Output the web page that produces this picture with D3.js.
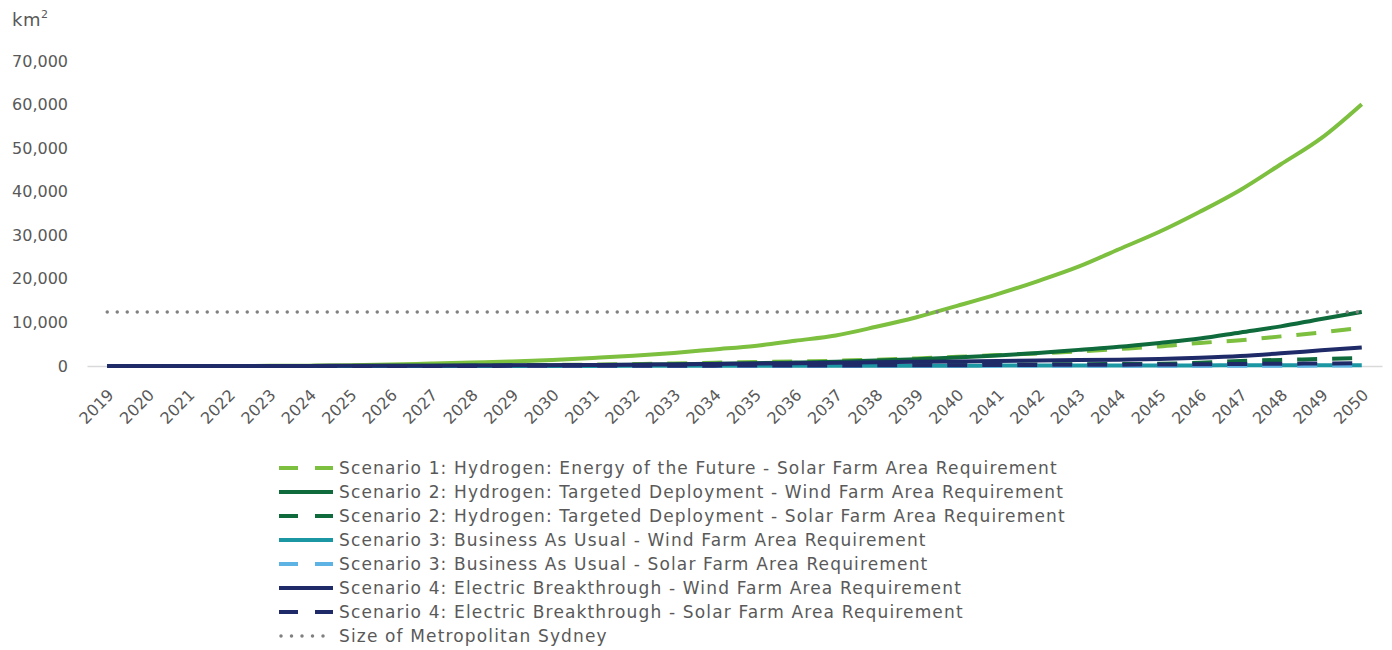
<!DOCTYPE html>
<html>
<head>
<meta charset="utf-8">
<script src="https://cdn.jsdelivr.net/npm/d3@7"></script>
<style>
  body { margin: 0; background: #fff; }
  text { font-family: "DejaVu Sans", Verdana, sans-serif; fill: #595959; }
</style>
</head>
<body>
<div class="chart"></div>
<script>
// data (km2)
const years = d3.range(2019, 2051).map(String);

const s1Wind = [0, 0, 0, 0, 30, 80, 200, 350, 570, 800, 1050, 1400, 1850, 2350, 3000, 3800,
  4600, 5800, 7000, 9000, 11200, 13800, 16500, 19500, 22800, 26800, 30800, 35400, 40400, 46300, 52300, 60100];
const s1Solar = [0, 0, 0, 0, 0, 10, 30, 60, 100, 150, 200, 260, 330, 450, 600, 750,
  900, 1050, 1200, 1450, 1750, 2100, 2500, 2900, 3350, 3900, 4500, 5300, 5900, 6800, 7700, 8800];
const s2Wind = [0, 0, 0, 0, 0, 10, 20, 40, 60, 90, 120, 160, 220, 300, 400, 520,
  650, 800, 1000, 1250, 1550, 1950, 2400, 3000, 3700, 4400, 5300, 6300, 7700, 9100, 10800, 12400];
const s2Solar = [0, 0, 0, 0, 0, 0, 0, 10, 20, 30, 40, 50, 60, 80, 100, 120,
  140, 160, 190, 220, 250, 280, 320, 360, 400, 450, 520, 750, 1150, 1400, 1600, 1800];
const s3Wind = [0, 0, 0, 0, 0, 0, 0, 0, 0, 10, 10, 20, 20, 30, 30, 40,
  40, 50, 50, 60, 70, 80, 90, 100, 110, 120, 130, 140, 150, 160, 180, 200];
const s3Solar = [0, 0, 0, 0, 0, 0, 0, 0, 0, 0, 5, 5, 10, 10, 15, 15,
  20, 25, 25, 30, 35, 40, 45, 50, 55, 60, 65, 70, 75, 80, 90, 100];
const s4Wind = [0, 0, 0, 0, 10, 20, 40, 60, 80, 100, 150, 200, 250, 300, 350, 450,
  550, 650, 750, 850, 950, 1050, 1150, 1250, 1350, 1450, 1600, 1900, 2300, 2900, 3600, 4250];
const s4Solar = [0, 0, 0, 0, 0, 0, 5, 10, 15, 20, 30, 40, 50, 60, 70, 85,
  100, 115, 130, 150, 170, 190, 220, 250, 280, 310, 350, 400, 460, 520, 580, 650];
const sydneySize = 12368;

const yTicks = [0, 10000, 20000, 30000, 40000, 50000, 60000, 70000];

const series = [
  { name: "Scenario 1: Hydrogen: Energy of the Future - Wind Farm Area Requirement", values: s1Wind, color: "#7dbf3e", dash: null, legend: false },
  { name: "Scenario 1: Hydrogen: Energy of the Future - Solar Farm Area Requirement", values: s1Solar, color: "#7dbf3e", dash: "20,15", legend: true },
  { name: "Scenario 2: Hydrogen: Targeted Deployment - Wind Farm Area Requirement", values: s2Wind, color: "#0f6b3b", dash: null, legend: true },
  { name: "Scenario 2: Hydrogen: Targeted Deployment - Solar Farm Area Requirement", values: s2Solar, color: "#0f6b3b", dash: "20,15", legend: true },
  { name: "Scenario 3: Business As Usual - Wind Farm Area Requirement", values: s3Wind, color: "#1b97a3", dash: null, legend: true },
  { name: "Scenario 3: Business As Usual - Solar Farm Area Requirement", values: s3Solar, color: "#5db3e4", dash: "20,15", legend: true },
  { name: "Scenario 4: Electric Breakthrough - Wind Farm Area Requirement", values: s4Wind, color: "#1f2a68", dash: null, legend: true },
  { name: "Scenario 4: Electric Breakthrough - Solar Farm Area Requirement", values: s4Solar, color: "#1f2a68", dash: "20,15", legend: true }
];

const width = 1392;
const height = 650;

const svg = d3.select(".chart")
  .append("svg")
  .attr("width", width)
  .attr("height", height);

// scales
let x = d3.scalePoint()
  .domain(years)
  .range([87, 1382])
  .padding(0.5);

let y = d3.scaleLinear()
  .domain([0, 70000])
  .range([366, 61]);

// unit label
let unit = svg.append("text")
  .attr("x", 12)
  .attr("y", 26)
  .style("font-size", "18px")
  .style("letter-spacing", "0.5px");
unit.append("tspan").text("km");
unit.append("tspan").text("2").attr("dy", -8).style("font-size", "11px");

// y axis labels
svg.append("g")
  .attr("transform", "translate(68,0)")
  .call(d3.axisLeft(y).tickValues(yTicks).tickSize(0).tickPadding(0).tickFormat(d3.format(",")))
  .call(g => g.select(".domain").remove())
  .call(g => g.selectAll("text")
    .attr("fill", "#595959")
    .style("font-size", "16px")
    .style("font-family", '"DejaVu Sans", Verdana, sans-serif'));

// x axis
let xAxis = svg.append("g")
  .attr("transform", `translate(0,${y(0)})`)
  .call(d3.axisBottom(x).tickSize(0).tickSizeOuter(0));
xAxis.select(".domain").attr("stroke", "#d9d9d9").attr("stroke-width", 1.5);
xAxis.selectAll("text")
  .attr("fill", "#595959")
  .style("font-size", "16px")
  .style("font-family", '"DejaVu Sans", Verdana, sans-serif')
  .attr("text-anchor", "end")
  .attr("dy", "0.35em")
  .attr("transform", "translate(1,24) rotate(-45)");

// lines
let line = d3.line()
  .x((d, i) => x(years[i]))
  .y(d => y(d))
  .curve(d3.curveMonotoneX);

let lines = svg.append("g").attr("id", "lines");

series.forEach(s => {
  lines.append("path")
    .datum(s.values)
    .attr("d", line)
    .attr("fill", "none")
    .attr("stroke", s.color)
    .attr("stroke-width", 4)
    .attr("stroke-dasharray", s.dash);
});

// metropolitan sydney reference
lines.append("line")
  .attr("x1", x(years[0]))
  .attr("x2", x(years[years.length - 1]))
  .attr("y1", y(sydneySize))
  .attr("y2", y(sydneySize))
  .attr("stroke", "#808080")
  .attr("stroke-width", 3.5)
  .attr("stroke-linecap", "round")
  .attr("stroke-dasharray", "0,10");

// legend
let legendItems = series.filter(s => s.legend)
  .concat([{ name: "Size of Metropolitan Sydney", color: "#808080", dotted: true }]);

let legend = svg.append("g").attr("id", "legend");
legendItems.forEach((s, i) => {
  let cy = 468 + i * 24;
  legend.append("line")
    .attr("x1", s.dotted ? 281 : 279)
    .attr("x2", 333)
    .attr("y1", cy)
    .attr("y2", cy)
    .attr("stroke", s.color)
    .attr("stroke-width", s.dotted ? 3.5 : 4)
    .attr("stroke-linecap", s.dotted ? "round" : "butt")
    .attr("stroke-dasharray", s.dotted ? "0,10.5" : (s.dash ? "19,17" : null));
  legend.append("text")
    .attr("x", 339)
    .attr("y", cy)
    .attr("dy", "0.36em")
    .style("font-size", "17px")
    .style("letter-spacing", "1.15px")
    .text(s.name);
});
</script>
</body>
</html>
